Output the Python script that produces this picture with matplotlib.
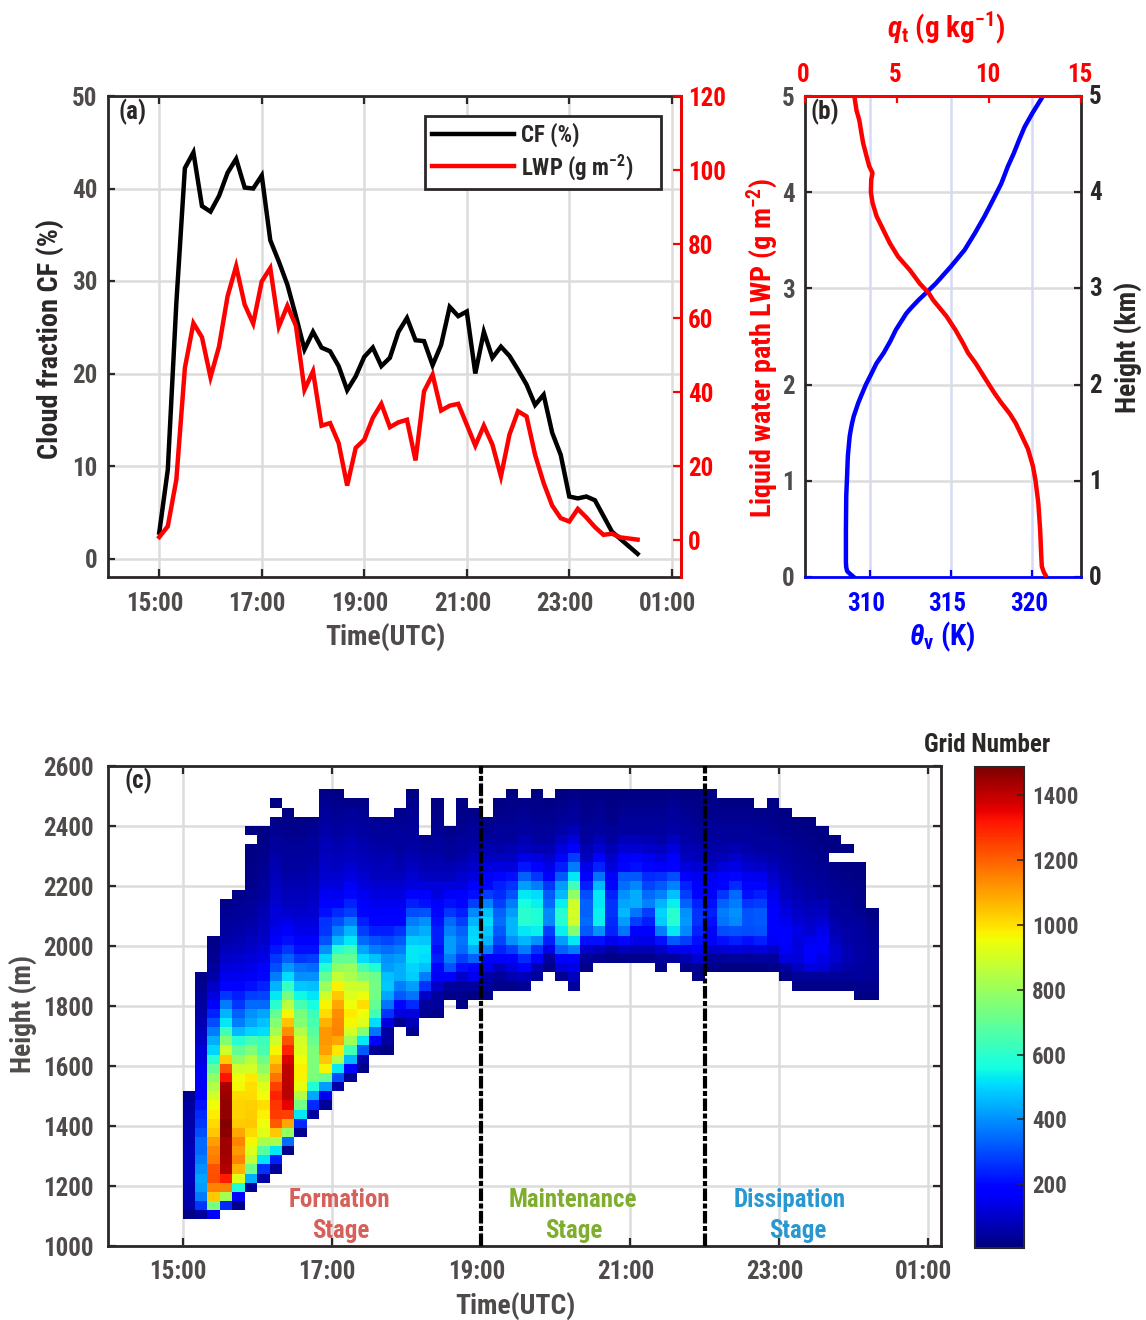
import numpy as np
import matplotlib
matplotlib.use('Agg')
import matplotlib.pyplot as plt
from matplotlib.transforms import ScaledTranslation

plt.rcParams['font.family'] = ['Roboto Condensed', 'Barlow Condensed', 'Liberation Sans', 'DejaVu Sans']
plt.rcParams['font.weight'] = 'bold'
plt.rcParams['mathtext.fontset'] = 'custom'
plt.rcParams['mathtext.rm'] = 'Roboto Condensed:bold'
plt.rcParams['mathtext.it'] = 'Roboto Condensed:italic:bold'
plt.rcParams['mathtext.bf'] = 'Roboto Condensed:bold'

W, H = 1146, 1320
DARK = '#2b2726'
GRAY = '#4f4b4a'
GRID = '#dcdcdc'

# minutes after 15:00
minutes = [0, 10, 20, 30, 40, 50, 60, 70, 80, 90, 100, 110, 120, 130, 140, 150, 160, 170, 180,
           190, 200, 210, 220, 230, 240, 250, 260, 270, 280, 290, 300, 310, 320, 330, 340, 350,
           360, 370, 380, 390, 400, 410, 420, 430, 440, 450, 460, 470, 480, 490, 500, 510, 520,
           530, 540, 550, 560]
cf = [2.8, 9.6, 27.6, 42.2, 43.9, 38.1, 37.5, 39.2, 41.7, 43.2, 40.1, 40.0, 41.4, 34.4, 32.1,
      29.6, 26.2, 22.6, 24.5, 22.8, 22.4, 20.8, 18.2, 19.7, 21.8, 22.8, 20.8, 21.7, 24.5, 26.0,
      23.6, 23.5, 20.9, 23.1, 27.2, 26.2, 26.7, 20.0, 24.5, 21.7, 22.9, 21.9, 20.4, 18.8, 16.6,
      17.7, 13.6, 11.2, 6.7, 6.5, 6.7, 6.3, 4.6, 2.9, 2.1, 1.3, 0.5]
lwp = [0.8, 3.7, 16.3, 46.5, 58.6, 54.8, 44.0, 52.3, 65.9, 74.0, 63.6, 58.5, 69.9, 73.5, 57.7,
       63.3, 57.9, 40.6, 45.6, 30.9, 31.6, 26.2, 14.7, 24.9, 27.1, 33.0, 36.8, 30.5, 31.8, 32.5,
       21.5, 40.2, 44.7, 35.0, 36.3, 36.8, 31.2, 25.5, 30.9, 25.8, 17.2, 28.5, 34.8, 33.4, 23.0,
       15.4, 9.3, 5.9, 5.0, 8.4, 6.1, 3.5, 1.4, 1.7, 0.7, 0.4, 0.1]

time_ticks = [15, 17, 19, 21, 23, 25]
time_labels = ['15:00', '17:00', '19:00', '21:00', '23:00', '01:00']

# panel b profiles
theta_h = [0.0, 0.03, 0.06, 0.1, 0.15, 0.49, 0.84, 1.0, 1.26, 1.46, 1.53, 1.6, 1.67, 1.74, 1.81,
           1.88, 2.0, 2.1, 2.22, 2.33, 2.45, 2.57, 2.74, 2.8, 2.88, 2.96, 3.05, 3.23, 3.4, 3.57,
           3.75, 3.92, 4.09, 4.27, 4.4, 4.54, 4.68, 4.82, 5.0]
theta_v = [309.0, 308.79, 308.6, 308.54, 308.52, 308.52, 308.54, 308.58, 308.64, 308.75, 308.82,
           308.9, 309.0, 309.14, 309.28, 309.45, 309.75, 310.05, 310.4, 310.85, 311.25, 311.6,
           312.24, 312.55, 313.0, 313.5, 314.05, 315.0, 315.83, 316.45, 317.06, 317.58, 318.09,
           318.5, 318.85, 319.18, 319.53, 320.0, 320.66]
qt_h = [0.02, 0.05, 0.11, 0.22, 0.49, 0.77, 1.0, 1.15, 1.33, 1.46, 1.6, 1.7, 1.81, 1.91, 2.0, 2.1,
        2.22, 2.33, 2.43, 2.57, 2.71, 2.88, 2.95, 3.05, 3.19, 3.33, 3.47, 3.61, 3.75, 3.89, 4.0,
        4.13, 4.2, 4.27, 4.37, 4.51, 4.61, 4.75, 4.85, 5.0]
qt = [13.07, 12.98, 12.87, 12.84, 12.78, 12.68, 12.53, 12.39, 12.12, 11.8, 11.45, 11.12, 10.67,
      10.3, 10.0, 9.67, 9.28, 8.86, 8.59, 8.17, 7.69, 6.96, 6.73, 6.24, 5.7, 5.06, 4.61, 4.25,
      3.89, 3.67, 3.58, 3.6, 3.67, 3.49, 3.35, 3.16, 3.07, 2.95, 2.8, 2.68]

# panel c: row edges (m), first filled row of each column, counts upward from there (0 = empty)
height_edges = [1089, 1119.5, 1150, 1180.5, 1211, 1241.5, 1272, 1302.5, 1333, 1363.5, 1394, 1424.5,
                1455, 1485.5, 1516, 1546.5, 1577, 1607.5, 1638, 1668.5, 1699, 1729.5, 1760, 1790.5,
                1821, 1851.5, 1882, 1912.5, 1943, 1973.5, 2004, 2034.5, 2065, 2095.5, 2126, 2156.5,
                2187, 2217.5, 2248, 2278.5, 2309, 2339.5, 2370, 2400.5, 2431, 2461.5, 2492, 2522.5]
col_bottom = [0, 0, 0, 1, 1, 3, 4, 5, 7, 9, 11, 12, 14, 15, 16, 18, 18, 21, 20, 22, 22, 24, 23, 24,
              24, 25, 25, 25, 26, 27, 26, 25, 27, 28, 28, 28, 28, 28, 27, 28, 27, 26, 27, 27, 27,
              27, 27, 27, 26, 25, 25, 25, 25, 25, 24, 24]
grid_counts = [
    [20, 60, 70, 70, 80, 80, 80, 80, 70, 70, 60, 60, 50, 30],
    [50, 270, 370, 420, 430, 400, 370, 340, 340, 300, 270, 250, 220, 170, 165, 160, 150, 130, 120, 100, 90, 70, 60, 50, 40, 30, 20],
    [170, 740, 1040, 1150, 1230, 1220, 1160, 1140, 1100, 1040, 1010, 980, 950, 900, 840, 780, 700, 600, 500, 440, 370, 300, 240, 170, 130, 100, 60, 40, 30, 25, 20],
    [250, 820, 1150, 1310, 1420, 1430, 1440, 1440, 1470, 1480, 1460, 1460, 1450, 1430, 1320, 1220, 1030, 890, 760, 640, 530, 450, 370, 270, 190, 150, 120, 100, 80, 60, 50, 40, 30, 20],
    [20, 170, 580, 930, 1070, 1150, 1110, 1150, 1090, 1030, 1020, 1020, 1010, 960, 950, 890, 780, 700, 590, 460, 370, 330, 270, 230, 190, 150, 130, 110, 90, 70, 60, 50, 40, 30, 20],
    [40, 440, 720, 870, 920, 960, 1010, 1040, 1030, 1025, 1010, 1000, 985, 900, 860, 760, 650, 500, 430, 400, 340, 280, 210, 160, 140, 120, 100, 90, 70, 60, 50, 40, 30, 25, 20, 20, 15, 15, 0, 10],
    [60, 260, 520, 680, 830, 930, 950, 975, 1000, 950, 920, 860, 780, 720, 650, 630, 510, 470, 430, 340, 290, 240, 200, 170, 140, 120, 100, 90, 80, 70, 60, 50, 40, 35, 30, 25, 20, 15, 10],
    [40, 230, 530, 830, 1040, 1210, 1260, 1270, 1300, 1250, 1170, 1100, 1030, 970, 890, 820, 760, 700, 600, 530, 450, 370, 300, 270, 220, 170, 150, 130, 120, 110, 100, 90, 80, 70, 60, 50, 40, 30, 20, 0, 10],
    [20, 350, 790, 1090, 1250, 1350, 1410, 1410, 1400, 1400, 1370, 1300, 1220, 1130, 1050, 970, 850, 730, 620, 510, 410, 330, 270, 210, 170, 140, 110, 90, 80, 70, 60, 50, 45, 40, 30, 25, 20, 10],
    [30, 250, 530, 730, 840, 940, 970, 975, 950, 920, 900, 840, 760, 740, 650, 550, 480, 400, 360, 270, 210, 180, 140, 120, 100, 90, 80, 70, 60, 50, 45, 40, 30, 25, 20],
    [50, 250, 430, 580, 740, 750, 750, 750, 710, 680, 650, 630, 560, 520, 470, 400, 340, 280, 210, 170, 140, 120, 110, 100, 90, 80, 70, 60, 50, 45, 40, 30, 25],
    [40, 150, 420, 710, 970, 1040, 1100, 1110, 1110, 1070, 1010, 970, 890, 800, 700, 590, 500, 400, 310, 270, 260, 210, 190, 160, 130, 110, 100, 90, 80, 70, 60, 50, 40, 30, 20],
    [60, 300, 530, 840, 990, 1090, 1150, 1140, 1130, 1090, 1040, 975, 870, 780, 700, 590, 450, 370, 300, 250, 190, 150, 130, 110, 90, 80, 70, 60, 50, 40, 30, 25, 15],
    [30, 180, 460, 640, 810, 900, 960, 985, 950, 920, 890, 830, 800, 700, 640, 530, 450, 370, 280, 240, 200, 160, 130, 110, 90, 80, 70, 60, 50, 40, 20],
    [20, 60, 320, 530, 760, 920, 950, 1000, 945, 880, 760, 650, 510, 430, 340, 280, 230, 190, 170, 150, 130, 110, 90, 80, 70, 60, 50, 40, 30, 20],
    [30, 170, 360, 510, 640, 700, 730, 730, 720, 580, 470, 370, 310, 230, 190, 170, 150, 130, 110, 90, 80, 70, 60, 50, 40, 30],
    [15, 50, 50, 130, 260, 360, 430, 480, 470, 420, 400, 350, 290, 230, 190, 170, 150, 130, 110, 90, 80, 70, 60, 50, 40, 30],
    [30, 130, 200, 320, 370, 440, 440, 420, 370, 320, 260, 190, 170, 150, 130, 110, 90, 70, 60, 50, 45, 40, 30, 25],
    [30, 80, 130, 250, 360, 420, 490, 500, 530, 530, 490, 420, 370, 300, 230, 190, 130, 110, 90, 70, 60, 50, 40, 35, 30, 25, 15],
    [30, 40, 100, 260, 370, 470, 510, 520, 480, 440, 400, 310, 210, 170, 120, 90, 70, 60, 50, 30],
    [25, 40, 50, 100, 165, 190, 230, 210, 230, 230, 210, 200, 170, 130, 120, 90, 70, 60, 50, 40, 30, 25, 20, 10],
    [20, 40, 170, 310, 370, 420, 420, 380, 340, 270, 210, 165, 120, 90, 70, 50, 40, 30, 20],
    [15, 25, 40, 100, 210, 280, 340, 360, 330, 280, 230, 200, 170, 130, 110, 80, 60, 50, 40, 30, 25, 20, 15],
    [15, 40, 150, 200, 330, 440, 510, 500, 450, 390, 280, 210, 170, 130, 100, 80, 60, 50, 40, 30, 20],
    [20, 50, 60, 150, 170, 370, 450, 480, 510, 470, 380, 280, 200, 170, 130, 90, 70, 50, 30, 20],
    [20, 40, 80, 170, 240, 290, 320, 350, 330, 280, 250, 230, 200, 130, 90, 60, 50, 40, 30, 20, 15],
    [20, 70, 130, 170, 280, 400, 450, 450, 420, 370, 310, 260, 210, 130, 90, 70, 50, 40, 30, 25, 20, 10],
    [30, 80, 170, 250, 370, 450, 530, 600, 600, 560, 530, 420, 330, 220, 140, 90, 70, 50, 40, 30, 20],
    [40, 70, 170, 260, 400, 540, 580, 580, 540, 510, 370, 270, 190, 120, 70, 50, 40, 30, 25, 20, 10],
    [20, 50, 140, 230, 280, 390, 390, 340, 320, 270, 170, 140, 100, 70, 50, 40, 30, 25, 15],
    [30, 120, 170, 330, 420, 540, 590, 590, 540, 460, 420, 320, 230, 170, 130, 90, 60, 40, 30, 20, 10],
    [40, 90, 140, 170, 370, 530, 760, 890, 900, 890, 780, 640, 530, 370, 280, 180, 130, 80, 50, 40, 30, 20],
    [20, 40, 100, 210, 320, 340, 330, 330, 300, 230, 170, 140, 90, 70, 50, 40, 30, 25, 20, 10],
    [30, 80, 210, 400, 540, 540, 530, 530, 460, 360, 240, 170, 110, 80, 50, 40, 30, 25, 10],
    [20, 50, 150, 240, 250, 260, 260, 240, 190, 165, 120, 100, 70, 50, 40, 25, 20, 15, 10],
    [25, 80, 200, 360, 420, 460, 430, 400, 350, 320, 200, 165, 110, 80, 50, 40, 30, 20, 10],
    [25, 70, 140, 180, 280, 360, 440, 440, 390, 320, 210, 170, 110, 80, 50, 40, 30, 20, 10],
    [25, 70, 140, 170, 230, 280, 380, 340, 290, 250, 190, 150, 100, 70, 50, 40, 30, 20, 10],
    [20, 40, 100, 210, 370, 490, 500, 450, 380, 320, 260, 165, 120, 90, 60, 50, 40, 30, 20, 10],
    [50, 150, 320, 530, 600, 600, 540, 470, 380, 300, 190, 170, 130, 90, 60, 50, 40, 30, 20],
    [20, 70, 150, 280, 390, 410, 400, 330, 280, 240, 170, 130, 90, 70, 60, 50, 40, 30, 20, 15],
    [20, 30, 110, 170, 210, 240, 260, 260, 240, 190, 180, 150, 110, 80, 70, 50, 40, 30, 25, 20, 10],
    [20, 40, 100, 170, 190, 210, 230, 210, 180, 170, 150, 90, 70, 60, 50, 40, 30, 25, 20, 10],
    [15, 40, 110, 210, 300, 360, 370, 330, 270, 190, 170, 120, 80, 60, 50, 40, 30, 25, 15],
    [15, 40, 130, 230, 310, 390, 400, 370, 340, 250, 200, 140, 100, 70, 50, 40, 30, 25, 15],
    [15, 40, 110, 210, 300, 310, 310, 270, 210, 190, 150, 110, 80, 60, 50, 40, 30, 25, 15],
    [15, 50, 130, 230, 310, 320, 320, 280, 230, 190, 150, 100, 70, 50, 40, 35, 30, 20],
    [20, 50, 100, 160, 170, 170, 170, 165, 150, 120, 100, 80, 60, 50, 40, 30, 25, 20, 15],
    [20, 50, 130, 160, 170, 170, 150, 130, 110, 90, 80, 70, 60, 50, 40, 30, 25, 20, 10],
    [20, 40, 90, 120, 130, 130, 140, 110, 100, 80, 70, 60, 50, 40, 35, 30, 25, 20, 10],
    [20, 40, 130, 170, 170, 150, 110, 100, 90, 70, 60, 50, 40, 35, 30, 25, 20, 15, 10],
    [20, 40, 120, 140, 165, 165, 140, 110, 90, 70, 50, 40, 35, 30, 25, 20, 15, 10],
    [20, 40, 80, 110, 110, 90, 70, 60, 50, 40, 35, 30, 25, 20, 0, 10, 10],
    [20, 35, 60, 70, 70, 60, 55, 50, 40, 35, 30, 25, 20, 15, 0, 10],
    [15, 25, 40, 50, 55, 55, 50, 45, 40, 30, 25, 20, 20, 15, 10],
    [15, 25, 35, 40, 40, 40, 35, 30, 25, 15],
]


def rect(l, t, r, b):
    return [l / W, 1 - b / H, (r - l) / W, (b - t) / H]


def txt(x, y, s, **kw):
    kw.setdefault('ha', 'center')
    kw.setdefault('va', 'center')
    kw.setdefault('fontsize', 18)
    kw.setdefault('color', DARK)
    kw.setdefault('fontweight', 'bold')
    fig.text(x / W, 1 - y / H, s, **kw)


def style_axis(ax):
    for s in ax.spines.values():
        s.set_linewidth(2)
        s.set_color(DARK)
    ax.set_axisbelow(True)
    ax.grid(True, color=GRID, lw=1.8)


def shift_xlabels(ax, px):
    off = ScaledTranslation(px / 100, 0, fig.dpi_scale_trans)
    for lab in ax.get_xticklabels():
        lab.set_transform(lab.get_transform() + off)


fig = plt.figure(figsize=(W / 100, H / 100), dpi=100)
hours = 15 + np.array(minutes) / 60

# (a)
ax_a = fig.add_axes(rect(108, 96, 681, 577))
style_axis(ax_a)
ax_a.plot(hours, cf, color='k', lw=3.2, label='CF (%)', solid_joinstyle='miter')
ax_a.set_xlim(14, 25.18)
ax_a.set_ylim(-2, 50)
ax_a.set_xticks(time_ticks, time_labels)
ax_a.set_yticks([0, 10, 20, 30, 40, 50])
ax_a.tick_params(axis='x', direction='in', length=6, width=1.6, top=True, labelsize=18,
                 labelcolor=GRAY, pad=10.5, color=DARK)
ax_a.tick_params(axis='y', direction='in', length=5, width=1.6, labelsize=18, labelcolor=GRAY,
                 pad=7.5, color=DARK)
shift_xlabels(ax_a, -4.5)
ax_r = ax_a.twinx()
ax_r.plot(hours, lwp, color='r', lw=3.2, label='LWP (g m$^{\\mathrm{-2}}$)', solid_joinstyle='miter')
ax_r.set_ylim(-10, 120)
ax_r.set_yticks([0, 20, 40, 60, 80, 100, 120])
ax_r.tick_params(axis='y', direction='in', length=6, width=1.6, labelsize=18, colors='r', pad=5)
for s in ax_r.spines.values():
    s.set_visible(False)
ax_r.spines['right'].set_visible(True)
ax_r.spines['right'].set_color('r')
ax_r.spines['right'].set_linewidth(2)
h1, l1 = ax_a.get_legend_handles_labels()
h2, l2 = ax_r.get_legend_handles_labels()
leg = ax_r.legend(h1 + h2, l1 + l2, loc='upper left',
                  bbox_to_anchor=((425 - 108) / 573, 1 - 90 / 481, 236 / 573, 70 / 481),
                  mode='expand', borderaxespad=0, fancybox=False, framealpha=1, edgecolor=DARK,
                  fontsize=16.5, handlelength=3.6, handletextpad=0.3, labelspacing=0.2, borderpad=0.3)
leg.get_frame().set_linewidth(2)
for t in leg.get_texts():
    t.set_color(DARK)

# (b)
ax_b = fig.add_axes(rect(805, 96, 1081, 577))
for s in ax_b.spines.values():
    s.set_linewidth(2)
    s.set_color(DARK)
ax_b.set_axisbelow(True)
ax_b.grid(True, axis='x', color='#d6d9f7', lw=1.8)
ax_b.grid(True, axis='y', color=GRID, lw=1.8)
ax_b.plot(theta_v, theta_h, color='b', lw=3.2)
ax_b.set_xlim(306, 323)
ax_b.set_ylim(0, 5)
ax_b.set_xticks([310, 315, 320])
ax_b.set_yticks([0, 1, 2, 3, 4, 5])
ax_b.tick_params(axis='x', direction='in', length=5, width=1.6, labelsize=18, colors='b', pad=10.5)
ax_b.tick_params(axis='y', direction='in', length=5, width=1.6, labelsize=18, labelcolor=GRAY,
                 pad=7.5, color=DARK, right=True, labelright=False)
shift_xlabels(ax_b, -3.5)
for i in [0, 1, 2, 3, 4, 5]:
    txt(1095, 578 - i * 96.2, str(i), fontsize=18)
ax_b.spines['bottom'].set_color('b')
ax_q = ax_b.twiny()
ax_q.plot(qt, qt_h, color='r', lw=3.2)
ax_q.set_xlim(0, 15)
ax_q.set_xticks([0, 5, 10, 15])
ax_q.tick_params(axis='x', direction='in', length=5, width=1.6, labelsize=18, colors='r', pad=6.5)
shift_xlabels(ax_q, -1.5)
for s in ax_q.spines.values():
    s.set_visible(False)
ax_q.spines['top'].set_visible(True)
ax_q.spines['top'].set_color('r')
ax_q.spines['top'].set_linewidth(2)

# (c)
ax_c = fig.add_axes(rect(108, 766, 941, 1246))
style_axis(ax_c)
counts = np.zeros((len(height_edges) - 1, len(minutes) - 1))
for i in range(len(grid_counts)):
    vals = grid_counts[i]
    for j in range(len(vals)):
        counts[col_bottom[i] + j, i] = vals[j]
mesh = ax_c.pcolormesh(hours, height_edges, np.ma.masked_equal(counts, 0), cmap='jet',
                       vmin=4, vmax=1486, zorder=2)
for x in [19, 22]:
    ax_c.axvline(x, color='k', lw=3, ls=(0, (3, 0.6, 1.2, 0.6)), zorder=3)
ax_c.set_xlim(14, 25.17)
ax_c.set_ylim(1000, 2600)
ax_c.set_xticks(time_ticks, time_labels)
ax_c.set_yticks(np.arange(1000, 2601, 200))
ax_c.tick_params(axis='x', direction='in', length=6, width=1.6, top=True, labelsize=18,
                 labelcolor=GRAY, pad=10, color=DARK)
ax_c.tick_params(axis='y', direction='in', length=6, width=1.6, right=True, labelsize=18,
                 labelcolor=GRAY, pad=10.5, color=DARK)
shift_xlabels(ax_c, -4.5)

cax = fig.add_axes(rect(975, 767, 1024, 1248))
cb = fig.colorbar(mesh, cax=cax)
cb.set_ticks([200, 400, 600, 800, 1000, 1200, 1400])
cb.ax.tick_params(direction='in', length=5, width=1.2, labelsize=16.5, labelcolor=GRAY, color=DARK, pad=6)
cb.outline.set_linewidth(1.5)
cb.outline.set_edgecolor(DARK)

# labels
txt(133, 112, '(a)')
txt(825, 112, '(b)')
txt(138, 781, '(c)')
txt(385, 637, 'Time(UTC)', fontsize=20, color=GRAY)
txt(515, 1306, 'Time(UTC)', fontsize=20, color=GRAY)
txt(50, 339, 'Cloud fraction CF (%)', fontsize=20.4, rotation=90, color=DARK)
txt(762, 348, 'Liquid water path LWP (g m$^{\\mathrm{-2}}$)', fontsize=20.3, rotation=90, color='r')
txt(1128, 347, 'Height (km)', fontsize=20, rotation=90)
txt(23, 1014, 'Height (m)', fontsize=20, rotation=90, color=GRAY)
txt(946, 28, '$\\mathit{q}_{\\mathrm{t}}$ (g kg$^{\\mathrm{-1}}$)', fontsize=21, color='r')
txt(942, 637, '$\\mathit{\\theta}_{\\mathrm{v}}$ (K)', fontsize=21, color='b')
txt(987, 745, 'Grid Number', fontsize=18)
txt(339, 1200, 'Formation', fontsize=18, color='#d6605a')
txt(341, 1231, 'Stage', fontsize=18, color='#d6605a')
txt(573, 1200, 'Maintenance', fontsize=18, color='#7fae2e')
txt(574, 1231, 'Stage', fontsize=18, color='#7fae2e')
txt(790, 1200, 'Dissipation', fontsize=18, color='#2a98d0')
txt(798, 1231, 'Stage', fontsize=18, color='#2a98d0')

fig.savefig('out.png', dpi=100)
